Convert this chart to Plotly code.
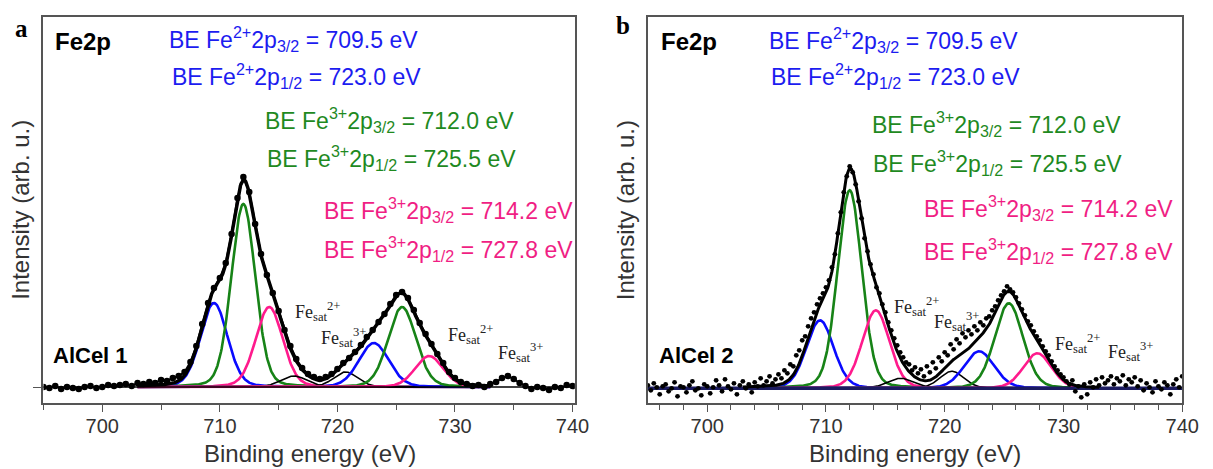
import numpy as np
import plotly.graph_objects as go

W, H = 1213, 469          # browser window
OFF = 8                   # default page margin of the html body
FW, FH = W - OFF, H - OFF # figure size so that the figure fills the window

# ---------------- measured spectra (read from the picture) ----------------
# panel a (AlCel 1): 695 ... 740 eV, 0.5 eV step
start_a, step_a = 695.0, 0.5
intensity_a = [
    0, -1, 1, -2, 0, -1, -2, 0, 1, -1,            # 695.0 - 699.5
    0, 2, 1, 2, 3, 1, 4, 3, 5, 4,                 # 700.0 - 704.5
    7, 6, 9, 11, 15, 25, 41, 63, 84, 99,          # 705.0 - 709.5
    109, 124, 153, 189, 210, 195, 163, 133, 112, 94,  # 710.0 - 714.5
    76, 57, 41, 28, 19, 13, 10, 8, 10, 13,        # 715.0 - 719.5
    18, 24, 29, 35, 42, 50, 57, 65, 73, 83,       # 720.0 - 724.5
    92, 95, 89, 77, 64, 53, 43, 33, 24, 15,       # 725.0 - 729.5
    9, 5, 3, 1, 2, 0, 3, 5, 9, 11,                # 730.0 - 734.5
    8, 4, 1, -2, 0, -1, -3, 0, -1, 2,             # 735.0 - 739.5
    1,                                            # 740.0
]

# panel b (AlCel 2): 695 ... 740 eV, 0.25 eV step
start_b, step_b = 695.0, 0.25
intensity_b = [
    3, -2, 5, 1, -6, 2, 4, -3, 0, 6, -8, 2, 1, -4, 3, 7, -2, 0, -7, 4,                     # 695.00-699.75
    2, -5, 1, 8, 3, -3, 9, 2, -1, 5, -6, 3, 7, 0, 4, -4, 6, 2, 10, 3,                      # 700.00-704.75
    7, 12, 5, 9, 14, 10, 18, 15, 24, 22, 33, 38, 48, 52, 62, 70, 76, 84, 90, 95,           # 705.00-709.75
    101, 108, 121, 134, 155, 176, 196, 212, 222, 216, 204, 187, 170, 150, 137, 124, 114, 101, 95, 84,  # 710.00-714.75
    76, 66, 58, 50, 43, 36, 31, 26, 24, 18, 21, 15, 19, 12, 22, 16, 26, 20, 31, 27,        # 715.00-719.75
    36, 33, 44, 39, 49, 45, 55, 51, 58, 54, 62, 58, 66, 63, 70, 72, 78, 82, 88, 93,        # 720.00-724.75
    97, 102, 99, 96, 91, 85, 79, 73, 67, 63, 57, 52, 48, 42, 37, 33, 27, 22, 18, 14,       # 725.00-729.75
    11, 7, 4, 8, -3, 2, -9, 4, -6, 6, 1, 9, 3, 11, 5, 8, 12, 4, 10, 7,                     # 730.00-734.75
    13, 3, 9, 6, 11, 2, 8, -2, 5, 1, -4, 7, 2, -1, 6, 3, -6, 4, 9, 1,                      # 735.00-739.75
    12,                                                                                      # 740.00
]

# ---------------- fitted components (parameters) ----------------
comp_kind = ["Fe2+", "Fe3+", "Fe3+sat", "sat", "sat", "Fe2+", "Fe3+", "Fe3+sat"]
centers_a = [709.5, 712.0, 714.2, 716.3, 720.7, 723.1, 725.5, 727.8]
heights_a = [84, 183, 80, 11, 15, 44, 80, 31]
centers_b = [709.5, 712.0, 714.2, 716.3, 720.6, 722.9, 725.4, 727.8]
heights_b = [68, 198, 78, 10, 17, 37, 85, 35]
fwhm = [2.7, 2.4, 2.7, 2.6, 2.4, 3.0, 2.8, 2.8]
lorentz_fraction = 0.15

# ---------------- labels ----------------
x_ticks = [700, 710, 720, 730, 740]
be_labels = [
    "BE Fe<sup>2+</sup>2p<sub>3/2</sub> = 709.5 eV",
    "BE Fe<sup>2+</sup>2p<sub>1/2</sub> = 723.0 eV",
    "BE Fe<sup>3+</sup>2p<sub>3/2</sub> = 712.0 eV",
    "BE Fe<sup>3+</sup>2p<sub>1/2</sub> = 725.5 eV",
    "BE Fe<sup>3+</sup>2p<sub>3/2</sub> = 714.2 eV",
    "BE Fe<sup>3+</sup>2p<sub>1/2</sub> = 727.8 eV",
]
sat_labels = ["Fe<sub>sat</sub><sup>2+</sup>", "Fe<sub>sat</sub><sup>3+</sup>",
              "Fe<sub>sat</sub><sup>2+</sup>", "Fe<sub>sat</sub><sup>3+</sup>"]
sample_names = ["AlCel 1", "AlCel 2"]
panel_letters = ["a", "b"]

# ---------------- style ----------------
curve_color = {"Fe2+": "#0a0aff", "Fe3+": "#178317", "Fe3+sat": "#ff1a8c", "sat": "#000000"}
curve_width = {"Fe2+": 2.6, "Fe3+": 2.6, "Fe3+sat": 2.6, "sat": 1.6}
text_colors = ["#1c1cf0", "#1c1cf0", "#1f8a1f", "#1f8a1f", "#f01e84", "#f01e84"]
SANS = "Liberation Sans, Arial, sans-serif"
SERIF = "Liberation Serif, Times New Roman, serif"
FRAME = "#555555"


def pv(x, c, h, w):
    r = (x - c) / w
    g = np.exp(-4 * np.log(2) * r ** 2)
    lo = 1.0 / (1.0 + 4 * r ** 2)
    return h * ((1 - lorentz_fraction) * g + lorentz_fraction * lo)


fig = go.Figure()

panels = [
    dict(start=start_a, step=step_a, y=intensity_a, c=centers_a, h=heights_a,
         xa="x", ya="y", base_color="#000000", base_w=1.6, msize=6.5, mode="lines+markers",
         env_w=3.5),
    dict(start=start_b, step=step_b, y=intensity_b, c=centers_b, h=heights_b,
         xa="x2", ya="y2", base_color="#1b1b60", base_w=3.5, msize=4.8, mode="markers",
         env_w=3),
]

grid = np.arange(703.0, 733.0001, 0.05)
for p in panels:
    env = np.zeros_like(grid)
    for kind, c, h, w in zip(comp_kind, p["c"], p["h"], fwhm):
        yy = pv(grid, c, h, w)
        env += yy
        fig.add_trace(go.Scatter(x=grid, y=yy, mode="lines", xaxis=p["xa"], yaxis=p["ya"],
                                 line=dict(color=curve_color[kind], width=curve_width[kind]),
                                 showlegend=False, hoverinfo="skip"))
    fig.add_trace(go.Scatter(x=[695, 740], y=[0, 0], mode="lines", xaxis=p["xa"], yaxis=p["ya"],
                             line=dict(color=p["base_color"], width=p["base_w"]),
                             showlegend=False, hoverinfo="skip"))
    fig.add_trace(go.Scatter(x=grid, y=env, mode="lines", xaxis=p["xa"], yaxis=p["ya"],
                             line=dict(color="#000000", width=p["env_w"]),
                             showlegend=False, hoverinfo="skip"))
    xs = [p["start"] + i * p["step"] for i in range(len(p["y"]))]
    fig.add_trace(go.Scatter(x=xs, y=p["y"], mode=p["mode"], xaxis=p["xa"], yaxis=p["ya"],
                             marker=dict(color="#000000", size=p["msize"]),
                             line=dict(color="#000000", width=2),
                             showlegend=False))


def px_x(v):
    return (v - OFF) / FW


def px_y(v):
    return 1 - (v - OFF) / FH


ydom = [px_y(403), px_y(17)]
xcommon = dict(tickvals=x_ticks, ticks="outside", ticklen=7, tickwidth=1.3, tickcolor=FRAME,
               showline=True, linecolor=FRAME, linewidth=1.5, mirror=True,
               showgrid=False, zeroline=False, ticklabelstandoff=-3,
               tickfont=dict(family=SANS, size=20, color="#333333"))
fig.update_layout(
    width=FW, height=FH, margin=dict(l=0, r=0, t=0, b=0),
    paper_bgcolor="white", plot_bgcolor="white", showlegend=False,
    xaxis=dict(domain=[px_x(44), px_x(583)], range=[695, 740.2], anchor="y",
               minor=dict(dtick=5, ticks="outside", ticklen=5, tickcolor=FRAME), **xcommon),
    yaxis=dict(domain=ydom, range=[-16, 370], anchor="x", tickvals=[0], ticks="outside",
               ticklen=9, tickcolor=FRAME, showticklabels=False, showline=True,
               linecolor=FRAME, linewidth=1.5, mirror=True, showgrid=False, zeroline=False),
    xaxis2=dict(domain=[px_x(657), px_x(1199)], range=[695, 740], anchor="y2",
                minor=dict(dtick=2, ticks="outside", ticklen=5, tickcolor=FRAME), **xcommon),
    yaxis2=dict(domain=ydom, range=[-14.7, 371.3], anchor="x2", ticks="",
                showticklabels=False, showline=True, linecolor=FRAME, linewidth=1.5,
                mirror=True, showgrid=False, zeroline=False),
)

ann = []


def add_text(text, x, y, size, color="#000000", family=SANS, xanchor="left", angle=0):
    ann.append(dict(text=text, x=px_x(x), y=px_y(y), xref="paper", yref="paper",
                    xanchor=xanchor, yanchor="middle", showarrow=False, textangle=angle,
                    font=dict(family=family, size=size, color=color)))


be_pos = [
    [(169, 39), (172, 76), (267, 119.5), (269, 157.5), (326, 209.5), (326, 249)],
    [(778, 39.5), (780, 76), (882, 124.5), (883, 162.5), (935, 207.5), (935, 250.5)],
]
sat_pos = [
    [(297, 311), (323, 337), (452, 334), (503, 352)],
    [(905, 306), (945, 321), (1068, 343), (1122, 351)],
]
fe2p_pos = [(54, 41), (668, 41)]
sample_pos = [(52, 355), (666, 355)]
letter_pos = [(22, 28), (632, 26)]
ytitle_x = [20, 634]
xtitle_x = [314, 928]

for k in range(2):
    for t, (x, y), col in zip(be_labels, be_pos[k], text_colors):
        add_text(t, x, y, 23, col)
    for t, (x, y) in zip(sat_labels, sat_pos[k]):
        add_text(t, x, y, 18, "#222222", SERIF)
    add_text("<b>Fe2p</b>", fe2p_pos[k][0], fe2p_pos[k][1], 24)
    add_text("<b>" + sample_names[k] + "</b>", sample_pos[k][0], sample_pos[k][1], 22)
    add_text("<b>" + panel_letters[k] + "</b>", letter_pos[k][0], letter_pos[k][1], 25,
             family=SERIF, xanchor="center")
    add_text("Intensity (arb. u.)", ytitle_x[k], 210, 24, "#333333", xanchor="center", angle=-90)
    add_text("Binding energy (eV)", xtitle_x[k], 453, 24, "#333333", xanchor="center")

fig.update_layout(annotations=ann)
fig.write_html("out.html")
